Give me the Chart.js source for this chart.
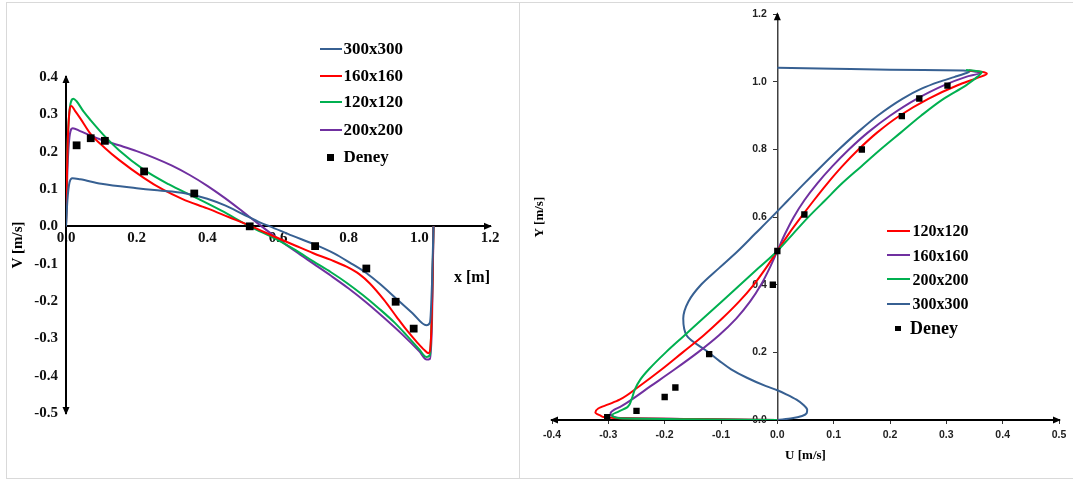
<!DOCTYPE html>
<html>
<head>
<meta charset="utf-8">
<script src="https://cdn.jsdelivr.net/npm/chart.js@4/dist/chart.umd.min.js"></script>
<style>
html,body{margin:0;padding:0;background:#fff;}
body{width:1073px;height:481px;position:relative;overflow:hidden;}
#frame{position:absolute;left:6px;top:2px;width:1100px;height:475px;border:1px solid #d9d9d9;}
#divider{position:absolute;left:519px;top:2px;width:1px;height:477px;background:#d9d9d9;}
#c1{position:absolute;left:7px;top:3px;}
#c2{position:absolute;left:520px;top:3px;}
.lg{position:absolute;font-family:"Liberation Serif","Times New Roman",serif;font-weight:bold;color:#000;white-space:nowrap;}
</style>
</head>
<body>
<div id="frame"></div>
<div id="divider"></div>
<canvas id="c1" width="512" height="475"></canvas>
<canvas id="c2" width="553" height="475"></canvas>
<script>
// ================= LEFT PANEL DATA : V [m/s] versus x [m] =================
const leftXTicks = [0, 0.2, 0.4, 0.6, 0.8, 1.0, 1.2];
const leftYTicks = [-0.5, -0.4, -0.3, -0.2, -0.1, 0, 0.1, 0.2, 0.3, 0.4];

const left300X = [0, 0.004, 0.01, 0.018, 0.04, 0.1, 0.2, 0.25, 0.3, 0.35, 0.4, 0.45, 0.5, 0.55, 0.577, 0.64, 0.70, 0.76, 0.803, 0.85, 0.888, 0.934, 0.98, 1.02, 1.03, 1.036, 1.04];
const left300V = [0, 0.07, 0.118, 0.129, 0.126, 0.114, 0.102, 0.097, 0.093, 0.086, 0.074, 0.056, 0.033, 0.01, 0, -0.025, -0.047, -0.073, -0.097, -0.125, -0.154, -0.193, -0.232, -0.265, -0.258, -0.15, 0];

const left160X = [0, 0.004, 0.009, 0.015, 0.025, 0.04, 0.07, 0.11, 0.15, 0.22, 0.275, 0.33, 0.4, 0.46, 0.52, 0.596, 0.65, 0.70, 0.75, 0.794, 0.83, 0.86, 0.90, 0.936, 0.965, 0.993, 1.015, 1.026, 1.033, 1.038, 1.04];
const left160V = [0, 0.2, 0.3, 0.322, 0.31, 0.29, 0.247, 0.21, 0.178, 0.13, 0.098, 0.073, 0.048, 0.025, 0.002, -0.03, -0.052, -0.072, -0.09, -0.108, -0.128, -0.153, -0.197, -0.243, -0.279, -0.31, -0.332, -0.34, -0.3, -0.12, 0];

const left120X = [0, 0.004, 0.01, 0.021, 0.03, 0.05, 0.07, 0.11, 0.15, 0.22, 0.29, 0.363, 0.44, 0.52, 0.596, 0.65, 0.70, 0.75, 0.794, 0.84, 0.888, 0.93, 0.964, 1.0, 1.02, 1.03, 1.036, 1.04];
const left120V = [0, 0.2, 0.31, 0.342, 0.335, 0.307, 0.284, 0.241, 0.204, 0.152, 0.113, 0.079, 0.042, 0.0, -0.035, -0.064, -0.094, -0.123, -0.151, -0.184, -0.222, -0.258, -0.292, -0.33, -0.35, -0.345, -0.2, 0];

const left200X = [0, 0.004, 0.01, 0.019, 0.04, 0.07, 0.1, 0.15, 0.2, 0.25, 0.3, 0.35, 0.4, 0.45, 0.5, 0.55, 0.6, 0.65, 0.7, 0.75, 0.8, 0.85, 0.9, 0.95, 1.0, 1.021, 1.03, 1.036, 1.04];
const left200V = [0, 0.15, 0.24, 0.263, 0.255, 0.243, 0.232, 0.217, 0.2015, 0.1835, 0.1625, 0.1375, 0.1085, 0.0755, 0.0395, 0.0025, -0.0335, -0.0675, -0.1, -0.1325, -0.1665, -0.204, -0.245, -0.288, -0.335, -0.357, -0.355, -0.25, 0];

const leftDeneyX = [0.03, 0.07, 0.11, 0.221, 0.363, 0.52, 0.705, 0.85, 0.933, 0.984];
const leftDeneyV = [0.217, 0.236, 0.229, 0.147, 0.088, 0.0, -0.053, -0.113, -0.202, -0.274];

// ================= RIGHT PANEL DATA : Y [m/s] versus U [m/s] =================
const rightXTicks = [-0.4, -0.3, -0.2, -0.1, 0, 0.1, 0.2, 0.3, 0.4, 0.5];
const rightYTicks = [0, 0.2, 0.4, 0.6, 0.8, 1.0, 1.2];

const right120Y = [0, 0.003, 0.006, 0.012, 0.022, 0.034, 0.046, 0.06, 0.10, 0.15, 0.20, 0.25, 0.30, 0.35, 0.40, 0.45, 0.5, 0.55, 0.6, 0.65, 0.7, 0.75, 0.8, 0.85, 0.9, 0.95, 0.99, 1.012, 1.024, 1.03, 1.034];
const right120U = [0, -0.15, -0.29, -0.313, -0.323, -0.318, -0.3, -0.28, -0.245, -0.205, -0.168, -0.131, -0.098, -0.068, -0.042, -0.02, 0, 0.02, 0.042, 0.065, 0.089, 0.115, 0.144, 0.177, 0.217, 0.268, 0.32, 0.355, 0.372, 0.362, 0.34];

const right160Y = [0, 0.003, 0.007, 0.02, 0.03, 0.039, 0.05, 0.1, 0.15, 0.2, 0.25, 0.3, 0.35, 0.4, 0.45, 0.5, 0.55, 0.6, 0.65, 0.7, 0.75, 0.8, 0.85, 0.9, 0.95, 0.99, 1.015, 1.027, 1.031, 1.034];
const right160U = [0, -0.15, -0.285, -0.296, -0.29, -0.279, -0.268, -0.225, -0.182, -0.141, -0.104, -0.073, -0.0485, -0.029, -0.0135, 0, 0.0135, 0.029, 0.048, 0.071, 0.0975, 0.127, 0.1605, 0.2, 0.2475, 0.2955, 0.335, 0.36, 0.35, 0.34];

const right200Y = [0, 0.002, 0.005, 0.015, 0.025, 0.038, 0.06, 0.09, 0.12, 0.15, 0.2, 0.25, 0.3, 0.35, 0.4, 0.45, 0.5, 0.55, 0.6, 0.65, 0.7, 0.75, 0.8, 0.85, 0.9, 0.95, 0.99, 1.015, 1.03, 1.033, 1.035];
const right200U = [0, -0.15, -0.28, -0.293, -0.282, -0.266, -0.259, -0.253, -0.243, -0.228, -0.198, -0.165, -0.132, -0.099, -0.066, -0.033, 0, 0.0275, 0.055, 0.085, 0.115, 0.149, 0.183, 0.219, 0.255, 0.295, 0.335, 0.355, 0.363, 0.35, 0.335];

const right300Y = [0, 0.005, 0.012, 0.02, 0.03, 0.045, 0.06, 0.075, 0.088, 0.1, 0.125, 0.15, 0.175, 0.2, 0.25, 0.3, 0.35, 0.4, 0.45, 0.5, 0.55, 0.6, 0.65, 0.7, 0.75, 0.8, 0.85, 0.9, 0.95, 0.98, 1.0, 1.015, 1.025, 1.030, 1.034, 1.036, 1.039, 1.042];
const right300U = [0, 0.026, 0.044, 0.052, 0.053, 0.046, 0.034, 0.017, 0, -0.02, -0.054, -0.082, -0.103, -0.122, -0.161, -0.167, -0.158, -0.1355, -0.103, -0.07, -0.04, -0.01, 0.019, 0.048, 0.078, 0.109, 0.142, 0.178, 0.222, 0.256, 0.287, 0.315, 0.333, 0.341, 0.33, 0.2, 0.1, 0];

const rightDeneyU = [-0.302, -0.25, -0.2, -0.181, -0.121, -0.008, 0, 0.048, 0.15, 0.221, 0.252, 0.302];
const rightDeneyY = [0.008, 0.027, 0.068, 0.096, 0.195, 0.40, 0.5, 0.608, 0.80, 0.899, 0.951, 0.989];

// ================= STYLE =================
const BLUE = '#376092', RED = '#ff0000', GREEN = '#00b050', PURPLE = '#7030a0';
Chart.defaults.font.family = '"Liberation Serif","Times New Roman",serif';

const pts = (xs, ys) => xs.map((x, i) => ({x: x, y: ys[i]}));
const fmt = v => Number(v).toFixed(1);
const setTicks = arr => (scale) => { scale.ticks = arr.map(v => ({value: v})); };

function lineSet(label, xs, ys, color, order, indexAxis) {
  return {label, data: pts(xs, ys), showLine: true, borderColor: color, backgroundColor: color,
          borderWidth: 2, pointRadius: 0, cubicInterpolationMode: 'monotone', indexAxis: indexAxis,
          order, yAxisID: 'y'};
}
function pointSet(label, xs, ys, r) {
  return {label, data: pts(xs, ys), showLine: false, pointStyle: 'rect', pointRadius: r,
          backgroundColor: '#000', borderColor: '#000', pointBorderWidth: 0, order: 0, yAxisID: 'y'};
}

const arrowPlugin = {
  id: 'axisArrows',
  afterDraw(chart, args, opts) {
    const ctx = chart.ctx, xs = chart.scales.x, ys = chart.scales.y;
    ctx.save();
    ctx.fillStyle = opts.color || '#000';
    for (const a of opts.arrows) {
      const px = xs.getPixelForValue(a.x), py = ys.getPixelForValue(a.y);
      const L = 8, W = 3.5, e = 2;
      ctx.beginPath();
      if (a.dir === 'up') { ctx.moveTo(px, py - e); ctx.lineTo(px - W, py - e + L); ctx.lineTo(px + W, py - e + L); }
      if (a.dir === 'down') { ctx.moveTo(px, py + e); ctx.lineTo(px - W, py + e - L); ctx.lineTo(px + W, py + e - L); }
      if (a.dir === 'right') { ctx.moveTo(px + e, py); ctx.lineTo(px + e - L, py - W); ctx.lineTo(px + e - L, py + W); }
      if (a.dir === 'left') { ctx.moveTo(px - e, py); ctx.lineTo(px - e + L, py - W); ctx.lineTo(px - e + L, py + W); }
      ctx.closePath();
      ctx.fill();
    }
    ctx.restore();
  }
};

// ================= LEFT CHART =================
const leftChart = new Chart(document.getElementById('c1'), {
  type: 'scatter',
  data: {datasets: [
    lineSet('300x300', left300X, left300V, BLUE, 1, 'x'),
    lineSet('160x160', left160X, left160V, RED, 2, 'x'),
    lineSet('120x120', left120X, left120V, GREEN, 3, 'x'),
    lineSet('200x200', left200X, left200V, PURPLE, 4, 'x'),
    pointSet('Deney', leftDeneyX, leftDeneyV, 5.5)
  ]},
  options: {
    responsive: false, animation: false, events: [],
    layout: {padding: {left: 0, top: 74, right: 29, bottom: 65}},
    plugins: {legend: {display: false}, tooltip: {enabled: false},
      axisArrows: {color: '#000', arrows: [{x: 0, y: 0.4, dir: 'up'}, {x: 0, y: -0.5, dir: 'down'}, {x: 1.2, y: 0, dir: 'right'}]}},
    scales: {
      x: {type: 'linear', position: {y: 0}, min: 0, max: 1.2, afterBuildTicks: setTicks(leftXTicks),
          afterFit: s => { s.height = 61; },
          ticks: {callback: fmt, autoSkip: false, maxRotation: 0, padding: 3, color: '#111', font: {size: 15, weight: 'bold'}},
          grid: {display: false, drawTicks: false}, border: {display: true, color: '#000', width: 2},
          title: {display: true, text: 'x [m]', align: 'end', color: '#000', font: {size: 16, weight: 'bold'}, padding: {top: 0, bottom: 0}}},
      y: {type: 'linear', position: 'left', min: -0.5, max: 0.4, afterBuildTicks: setTicks(leftYTicks),
          afterFit: s => { s.width = 59; },
          ticks: {callback: fmt, autoSkip: false, padding: 8, color: '#111', font: {size: 15, weight: 'bold'}},
          grid: {display: false, drawTicks: false}, border: {display: true, color: '#000', width: 2},
          title: {display: true, text: 'V [m/s]', color: '#000', font: {size: 15, weight: 'bold'}, padding: {top: 2, bottom: 0}}}
    }
  },
  plugins: [arrowPlugin]
});

// ================= RIGHT CHART =================
const rightChart = new Chart(document.getElementById('c2'), {
  type: 'scatter',
  data: {datasets: [
    lineSet('120x120', right120U, right120Y, RED, 2, 'y'),
    lineSet('160x160', right160U, right160Y, PURPLE, 3, 'y'),
    lineSet('200x200', right200U, right200Y, GREEN, 1, 'y'),
    lineSet('300x300', right300U, right300Y, BLUE, 4, 'y'),
    pointSet('Deney', rightDeneyU, rightDeneyY, 4.5)
  ]},
  options: {
    responsive: false, animation: false, events: [],
    layout: {padding: {left: 0, top: 9, right: 14, bottom: 0}},
    plugins: {legend: {display: false}, tooltip: {enabled: false},
      axisArrows: {color: '#000', arrows: [{x: 0, y: 1.2, dir: 'up'}, {x: -0.4, y: 0, dir: 'left'}, {x: 0.5, y: 0, dir: 'right'}]}},
    scales: {
      x: {type: 'linear', position: 'bottom', min: -0.4, max: 0.5, afterBuildTicks: setTicks(rightXTicks),
          afterFit: s => { s.height = 58; },
          ticks: {callback: fmt, autoSkip: false, maxRotation: 0, padding: 5, color: '#222', font: {family: '"Liberation Sans",Arial,sans-serif', size: 10.5, weight: 'bold'}},
          grid: {display: true, drawOnChartArea: false, drawTicks: true, tickLength: 4, color: '#333'},
          border: {display: true, color: '#000', width: 2},
          title: {display: true, text: 'U [m/s]', color: '#000', font: {size: 13, weight: 'bold'}, padding: {top: 0, bottom: 15}}},
      y: {type: 'linear', position: {x: 0}, min: 0, max: 1.2, afterBuildTicks: setTicks(rightYTicks),
          ticks: {callback: v => fmt(v) + '\u2003', autoSkip: false, padding: 5, color: '#222', font: {family: '"Liberation Sans",Arial,sans-serif', size: 10.5, weight: 'bold'}},
          grid: {display: true, drawOnChartArea: false, drawTicks: true, tickLength: 4, color: '#333'},
          border: {display: true, color: '#404040', width: 1.5}},
      yt: {type: 'linear', axis: 'y', position: 'left', min: 0, max: 1.2,
          afterFit: s => { s.width = 32; },
          ticks: {display: false}, grid: {display: false}, border: {display: false},
          title: {display: true, text: 'Y [m/s]', color: '#000', font: {size: 13, weight: 'bold'}, padding: {top: 12, bottom: 0}}}
    }
  },
  plugins: [arrowPlugin]
});

// ================= HTML LEGENDS (built from the chart datasets) =================
function buildLegend(chart, labelOrder, cfg) {
  labelOrder.forEach((lab, i) => {
    const ds = chart.data.datasets.find(d => d.label === lab);
    const yc = cfg.rows[i];
    const sw = document.createElement('div');
    if (ds.showLine) {
      sw.style.cssText = `position:absolute;left:${cfg.swX}px;top:${yc - 1}px;width:${cfg.swW}px;height:2px;background:${ds.borderColor};`;
    } else {
      const s = cfg.sq;
      sw.style.cssText = `position:absolute;left:${cfg.sqX - s / 2}px;top:${yc - s / 2}px;width:${s}px;height:${s}px;background:#000;`;
    }
    document.body.appendChild(sw);
    const t = document.createElement('div');
    t.className = 'lg';
    const fs = ds.showLine ? cfg.fs : cfg.fsPt;
    const lh = Math.round(fs * 1.2);
    t.style.cssText = `left:${ds.showLine ? cfg.txtX : cfg.txtXPt}px;top:${yc - lh / 2}px;font-size:${fs}px;line-height:${lh}px;`;
    t.textContent = ds.label;
    document.body.appendChild(t);
  });
}
buildLegend(leftChart, ['300x300', '160x160', '120x120', '200x200', 'Deney'],
  {rows: [48.5, 75.5, 102, 129.5, 157], swX: 320, swW: 22, txtX: 343.5, txtXPt: 343.5, sqX: 330.7, sq: 7, fs: 17, fsPt: 17});
buildLegend(rightChart, ['120x120', '160x160', '200x200', '300x300', 'Deney'],
  {rows: [230.7, 255, 279.3, 303.5, 328.3], swX: 887, swW: 23, txtX: 912.5, txtXPt: 910, sqX: 898, sq: 5.5, fs: 16, fsPt: 18});
</script>
</body>
</html>
